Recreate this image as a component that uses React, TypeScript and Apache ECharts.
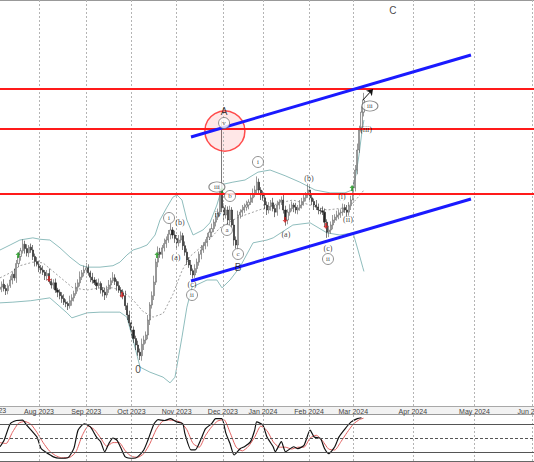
import React, { useEffect, useRef } from "react";
import * as echarts from "echarts";

// ---------- data (bar index = weekday since 5 Jul 2023) ----------
const firstOpen = 1909;
const closes = [
  1912, 1916, 1910, 1907, 1914, 1922, 1930, 1925, 1945, 1955,
  1963, 1972, 1966, 1960, 1968, 1964, 1955, 1948, 1944, 1939,
  1936, 1933, 1928, 1931, 1920, 1915, 1918, 1908, 1905, 1900,
  1896, 1891, 1889, 1886, 1893, 1897, 1903, 1912, 1918, 1926,
  1932, 1936, 1939, 1932, 1926, 1922, 1918, 1914, 1917, 1908,
  1905, 1901, 1909, 1915, 1921, 1925, 1920, 1914, 1908, 1904,
  1900, 1886, 1873, 1862, 1852, 1840, 1831, 1821, 1816, 1832,
  1838, 1845, 1866, 1887, 1900, 1919, 1947, 1961, 1958, 1967,
  1973, 1978, 1986, 1992, 1985, 1980, 1974, 1978, 1984, 1970,
  1961, 1950, 1943, 1935, 1929, 1938, 1947, 1958, 1964, 1970,
  1975, 1982, 1989, 1994, 2003, 2010, 2017, 2048, 2023, 2013,
  2020, 2006, 2020, 1999, 1978, 1971, 2013, 2017, 2020, 2024,
  2027, 2031, 2037, 2043, 2048, 2059, 2048, 2041, 2037, 2027,
  2020, 2025, 2030, 2022, 2017, 2027, 2031, 2034, 2020, 2006,
  2017, 2022, 2027, 2024, 2020, 2023, 2027, 2032, 2037, 2041,
  2048, 2037, 2032, 2027, 2024, 2020, 2019, 2017, 2003, 1989,
  1992, 1999, 2006, 2010, 2013, 2016, 2017, 2023, 2020, 2017,
  2026, 2034, 2051, 2076, 2104, 2132, 2157, 2174,
];
const wickUp = [
  6, 4, 7, 5, 3, 6, 4, 8, 5, 6, 4, 7, 5, 6, 3, 5, 7, 4, 6, 5,
  4, 6, 3, 5, 7, 4, 5, 6, 3, 4, 5, 6, 4, 3, 7, 5, 4, 6, 5, 8,
  4, 6, 7, 5, 3, 6, 4, 5, 7, 3, 4, 6, 5, 7, 4, 8, 5, 3, 6, 4,
  5, 7, 4, 6, 3, 5, 4, 6, 5, 8, 6, 5, 7, 4, 6, 9, 5, 8, 6, 4,
  7, 5, 6, 9, 4, 6, 5, 7, 6, 4, 6, 5, 4, 7, 3, 6, 5, 4, 7, 5,
  4, 6, 5, 7, 4, 6, 5, 8, 97, 6, 7, 5, 6, 4, 8, 5, 6, 4, 7, 5,
  6, 4, 5, 7, 6, 8, 5, 4, 6, 7, 5, 6, 4, 7, 5, 6, 4, 5, 7, 6,
  4, 6, 5, 3, 6, 4, 7, 5, 6, 4, 9, 5, 6, 4, 7, 5, 3, 6, 5, 4,
  6, 5, 7, 4, 6, 5, 4, 6, 5, 7, 5, 6, 8, 7, 9, 6, 8, 10,
];
const wickDn = [
  5, 7, 4, 6, 5, 3, 6, 4, 7, 5, 6, 4, 7, 5, 6, 4, 5, 7, 3, 6,
  5, 4, 6, 7, 3, 5, 6, 4, 7, 5, 6, 4, 5, 6, 4, 7, 5, 3, 6, 5,
  4, 5, 6, 4, 7, 5, 3, 6, 4, 5, 6, 7, 4, 5, 6, 3, 5, 7, 4, 6,
  5, 6, 7, 5, 8, 6, 7, 5, 6, 7, 8, 5, 6, 7, 5, 6, 4, 7, 5, 6,
  5, 6, 4, 7, 5, 6, 8, 5, 4, 6, 5, 7, 4, 6, 5, 4, 6, 5, 7, 4,
  5, 6, 4, 7, 5, 6, 4, 5, 6, 7, 5, 6, 7, 4, 8, 5, 7, 5, 6, 4,
  5, 6, 4, 7, 5, 6, 5, 7, 4, 6, 7, 5, 6, 4, 7, 5, 6, 4, 5, 8,
  6, 5, 4, 7, 5, 6, 4, 5, 6, 5, 4, 6, 5, 7, 4, 6, 5, 4, 7, 8,
  7, 5, 6, 4, 5, 6, 7, 5, 4, 6, 5, 6, 4, 5, 6, 4, 5, 6,
];

// Bollinger bands: [bar index, price]
const bbUpper = [
  [0, 1964], [4.9, 1971], [9.7, 1978], [16, 1981], [19.5, 1979], [24.3, 1978],
  [29.2, 1967], [34.1, 1954], [39, 1943], [42.4, 1940], [48.7, 1940], [55, 1942],
  [58.4, 1947], [61.8, 1957], [64.8, 1964], [68.2, 1967], [71.6, 1971], [75.5, 1985],
  [77.9, 2006], [81.3, 2024], [84.2, 2038], [86.2, 2041], [88.6, 2034], [91, 2006],
  [94, 1985], [98.8, 1992], [102.2, 2002], [105.6, 2027], [108.6, 2056], [113.4, 2059],
  [119.3, 2062], [125.6, 2073], [131.5, 2076], [138.8, 2068], [146, 2059], [153.4, 2048],
  [160.7, 2044], [168, 2044], [171.4, 2048], [173.3, 2069], [174.8, 2097], [176.2, 2129],
  [177.2, 2146],
];
const bbMid = [
  [0, 1925], [4.9, 1932], [9.7, 1942], [16, 1947], [20.9, 1946], [29.2, 1926],
  [35.5, 1911], [42.4, 1908], [48.7, 1911], [55, 1911], [59.9, 1906], [64.8, 1894],
  [69.6, 1878], [74.5, 1870], [79.4, 1875], [84.2, 1902], [88.6, 1935], [92.5, 1955],
  [100.8, 1975], [107.1, 1995], [115.4, 2009], [123.2, 2017], [130, 2024], [136.3, 2030],
  [142.6, 2034], [151, 2027], [159.2, 2020], [168, 2023], [171.9, 2030], [175.3, 2041],
  [177.2, 2048],
];
const bbLower = [
  [0, 1890], [6.3, 1891], [15, 1893], [24.3, 1897], [32.6, 1876], [35, 1869],
  [42.4, 1876], [48.7, 1877], [58.4, 1877], [61.8, 1870], [64.8, 1838], [68.2, 1800],
  [73, 1793], [79.4, 1786], [82.8, 1778], [85.2, 1786], [88.6, 1842], [91, 1884],
  [93.5, 1912], [100.8, 1922], [105.6, 1922], [108.1, 1911], [112, 1922], [116.8, 1940],
  [123.2, 1974], [130, 1978], [133, 1981], [142.6, 1999], [151, 2002], [159.2, 1988],
  [165.5, 1985], [171.9, 1988], [174.3, 1964], [176.7, 1939], [177.2, 1934],
];

// Stochastic oscillator: [bar index, value]
const stochK = [
  [0, 31], [2, 45], [5, 81], [8, 88], [11, 89], [13, 78], [16, 63], [18, 52], [20, 27],
  [22, 20], [26, 9], [29, 6], [33, 7], [36, 28], [38, 67], [41, 81], [44, 74], [47, 52],
  [49, 42], [51, 20], [53, 38], [55, 50], [57, 45], [59, 27], [61, 9], [65, 6], [67, 9],
  [70, 24], [72, 45], [75, 81], [77, 90], [80, 88], [83, 92], [86, 85], [89, 81], [90, 60],
  [93, 24], [95, 24], [98, 49], [100, 70], [103, 81], [105, 92], [108, 92], [110, 60],
  [112, 38], [114, 13], [117, 27], [119, 31], [122, 42], [124, 67], [125, 85], [128, 78],
  [130, 52], [133, 31], [134, 20], [137, 42], [139, 20], [143, 31], [145, 27], [148, 34],
  [151, 67], [153, 52], [156, 49], [158, 27], [160, 16], [163, 31], [165, 52], [168, 70],
  [171, 85], [174, 92], [176, 94],
];
const stochD = [
  [0, 40], [3, 38], [6, 62], [9, 82], [12, 86], [15, 80], [18, 62], [21, 40], [24, 22],
  [27, 12], [30, 7], [34, 8], [37, 20], [40, 55], [43, 76], [46, 68], [49, 50], [52, 32],
  [55, 40], [58, 40], [61, 22], [64, 10], [67, 8], [70, 16], [73, 38], [76, 68], [79, 86],
  [82, 89], [85, 88], [88, 84], [91, 68], [94, 38], [97, 30], [100, 55], [103, 74],
  [106, 87], [109, 90], [112, 62], [115, 30], [118, 22], [121, 32], [124, 52], [127, 76],
  [130, 66], [133, 42], [136, 30], [139, 30], [142, 26], [145, 30], [148, 30], [151, 50],
  [154, 56], [157, 44], [160, 26], [163, 24], [166, 42], [169, 62], [172, 80], [175, 90],
  [177, 93],
];
const stochLevels = [80, 50, 20];

// time axis
const monthPos = [19, 42, 64, 86, 108.5, 128, 150.5, 172, 201, 231, 259];
const monthNames = [
  "Aug 2023", "Sep 2023", "Oct 2023", "Nov 2023", "Dec 2023", "Jan 2024",
  "Feb 2024", "Mar 2024", "Apr 2024", "May 2024", "Jun 2024",
];
const prevMonth = { name: "Jul 2023", pos: -3.4 };

// annotations
const levels = [2189.4, 2133.4, 2043];
const trendLines = [
  [[93, 2122.2], [229.3, 2237]],
  [[93, 1920.6], [229.3, 2035.4]],
];
const arrowLine = [[176.7, 2174], [181.6, 2189.4]];
const focusCircle = [109.5, 2130.6];
const bigLetters = [
  ["C", 191.3, 2300],
  ["A", 109.1, 2158.6],
  ["B", 115.9, 1940.2],
  ["0", 67.2, 1797.4],
];
const parenLabels = [
  ["(a)", 85.7, 1953],
  ["(b)", 87.6, 2003],
  ["(c)", 93.5, 1916.4],
  ["iv", 106.1, 2014.4],
  ["(a)", 139.2, 1986.4],
  ["(b)", 150.4, 2064.8],
  ["(c)", 159.7, 1966.8],
  ["(i)", 166.5, 2039.6],
  ["(ii)", 169.4, 2007.4],
  ["(iii)", 178.2, 2133.4],
];
const circledLabels = [
  ["v", 109.1, 2141.8],
  ["i", 82.3, 2008.8],
  ["ii", 93.5, 1901],
  ["iii", 105.6, 2052.2],
  ["a", 110.5, 1992],
  ["b", 112, 2039.6],
  ["c", 115.9, 1958.4],
  ["i", 125.6, 2087.2],
  ["ii", 159.7, 1951.4],
  ["iii", 180.1, 2165.6],
];
const upMarks = [[8.8, 1957], [76.4, 1957], [108.1, 2048], [171.4, 2050.8]];
const downMarks = [[23.9, 1923.4], [59.4, 1901], [138.8, 2006], [158.7, 1997.6]];

// ---------- axis settings ----------
const X_MAX = 260;
const Y_MIN = 1745.6;
const Y_MAX = 2314;

export default function App() {
  const ref = useRef<HTMLDivElement>(null);

  useEffect(() => {
    document.body.style.margin = "0";
    if (!ref.current) return;
    const chart = echarts.init(ref.current, undefined, { renderer: "svg" });

    const candleData = closes.map((c, i) => {
      const o = i === 0 ? firstOpen : closes[i - 1];
      return [i, o, c, Math.min(o, c) - wickDn[i], Math.max(o, c) + wickUp[i]];
    });

    const font = "Liberation Sans";
    const serif = "Liberation Serif";

    const vgrid = (xi: number, yMin: number) => ({
      type: "scatter",
      xAxisIndex: xi,
      yAxisIndex: xi,
      data: monthPos.map((p) => [p, yMin]),
      symbolSize: 0,
      silent: true,
      z: 1,
      markLine: {
        silent: true,
        symbol: "none",
        label: { show: false },
        lineStyle: { color: "#b4b4b4", type: [2, 2], width: 1 },
        data: monthPos.map((p) => ({ xAxis: p })),
      },
    });

    const option: any = {
      animation: false,
      textStyle: { fontFamily: font },
      grid: [
        { left: 0, right: 0, top: 0, height: 406, containLabel: false, outerBoundsMode: "none" },
        { left: 0, right: 0, top: 415, height: 46, containLabel: false, outerBoundsMode: "none" },
      ],
      xAxis: [
        {
          type: "value",
          gridIndex: 0,
          min: 0,
          max: X_MAX,
          splitLine: { show: false },
          axisTick: { show: false },
          axisLine: { show: true, lineStyle: { color: "#a8a8a8" } },
          axisLabel: {
            show: true,
            customValues: monthPos,
            fontSize: 7,
            color: "#444",
            margin: 2,
            fontFamily: font,
            formatter: (v: number) => {
              const k = monthPos.indexOf(v);
              return k >= 0 ? monthNames[k] : "";
            },
          },
        },
        {
          type: "value",
          gridIndex: 1,
          min: 0,
          max: X_MAX,
          show: true,
          splitLine: { show: false },
          axisTick: { show: false },
          axisLabel: { show: false },
          axisLine: { show: true, lineStyle: { color: "#666" } },
        },
      ],
      yAxis: [
        { type: "value", gridIndex: 0, min: Y_MIN, max: Y_MAX, show: false, splitLine: { show: false } },
        { type: "value", gridIndex: 1, min: 0, max: 100, show: false, splitLine: { show: false } },
      ],
      graphic: [
        { type: "rect", z: -10, shape: { x: 0, y: 406, width: 534, height: 8 }, style: { fill: "#f2f2f2" } },
        { type: "line", shape: { x1: 0, y1: 0.5, x2: 534, y2: 0.5 }, style: { stroke: "#999", lineWidth: 1 } },
        { type: "line", shape: { x1: 0, y1: 414.5, x2: 534, y2: 414.5 }, style: { stroke: "#999", lineWidth: 1 } },
      ],
      series: [
        vgrid(0, Y_MIN),
        {
          type: "line",
          data: bbUpper,
          symbol: "none",
          lineStyle: { color: "#8fbdbd", width: 1 },
          silent: true,
          z: 2,
        },
        {
          type: "line",
          data: bbLower,
          symbol: "none",
          lineStyle: { color: "#8fbdbd", width: 1 },
          silent: true,
          z: 2,
        },
        {
          type: "line",
          data: bbMid,
          symbol: "none",
          lineStyle: { color: "#888", width: 0.8, type: [2, 2] },
          silent: true,
          z: 2,
        },
        {
          type: "candlestick",
          data: candleData,
          encode: { x: 0, y: [1, 2, 3, 4] },
          barWidth: 1.6,
          itemStyle: {
            color: "#f4f4f4",
            color0: "#222222",
            borderColor: "#555555",
            borderColor0: "#222222",
            borderWidth: 0.6,
          },
          silent: true,
          z: 3,
        },
        {
          type: "scatter",
          data: [focusCircle],
          symbol: "circle",
          symbolSize: 40,
          itemStyle: { color: "rgba(255,0,0,0.12)", borderColor: "#ff2020", borderWidth: 1.5 },
          silent: true,
          z: 4,
        },
        {
          type: "scatter",
          data: upMarks,
          symbol: "path://M4,0 L8,5 L5.5,5 L5.5,10 L2.5,10 L2.5,5 L0,5 Z",
          symbolSize: [5, 6],
          itemStyle: { color: "#1f9a1f" },
          silent: true,
          z: 5,
        },
        {
          type: "scatter",
          data: downMarks,
          symbol: "path://M4,10 L8,5 L5.5,5 L5.5,0 L2.5,0 L2.5,5 L0,5 Z",
          symbolSize: [5, 6],
          itemStyle: { color: "#d42020" },
          silent: true,
          z: 5,
        },
        {
          type: "scatter",
          data: [],
          symbolSize: 0,
          silent: true,
          z: 6,
          markLine: {
            silent: true,
            symbol: "none",
            label: { show: false },
            data: [
              ...levels.map((v) => ({ yAxis: v, lineStyle: { color: "#ff1a1a", width: 2, type: "solid" } })),
              ...trendLines.map((t) => [
                { coord: t[0], lineStyle: { color: "#1a1aff", width: 3, type: "solid" } },
                { coord: t[1] },
              ]),
              [
                { coord: arrowLine[0], symbol: "none", lineStyle: { color: "#111", width: 1, type: "solid" } },
                { coord: arrowLine[1], symbol: "arrow", symbolSize: 6 },
              ],
            ],
          },
        },
        {
          type: "scatter",
          data: circledLabels.map((d) => ({ name: d[0], value: [d[1], d[2]] })),
          symbol: "circle",
          symbolSize: (_v: any, p: any) => {
            const n = String(p.name).length;
            return n >= 3 ? [16, 10] : [11, 11];
          },
          itemStyle: { color: "#ffffff", borderColor: "#666", borderWidth: 0.9 },
          label: {
            show: true,
            position: "inside",
            formatter: "{b}",
            fontSize: 7,
            color: "#111",
            fontFamily: serif,
          },
          silent: true,
          z: 7,
        },
        {
          type: "scatter",
          data: parenLabels.map((d) => ({ name: d[0], value: [d[1], d[2]] })),
          symbolSize: 1,
          itemStyle: { color: "rgba(0,0,0,0)" },
          label: {
            show: true,
            position: "inside",
            formatter: "{b}",
            fontSize: 8,
            color: "#111",
            fontFamily: serif,
          },
          silent: true,
          z: 7,
        },
        {
          type: "scatter",
          data: bigLetters.map((d) => ({ name: d[0], value: [d[1], d[2]] })),
          symbolSize: 1,
          itemStyle: { color: "rgba(0,0,0,0)" },
          label: {
            show: true,
            position: "inside",
            formatter: "{b}",
            fontSize: 10,
            color: "#111",
            fontFamily: font,
          },
          silent: true,
          z: 7,
        },
        // stochastic panel
        vgrid(1, 0),
        {
          type: "line",
          xAxisIndex: 1,
          yAxisIndex: 1,
          data: stochD,
          symbol: "none",
          smooth: 0.2,
          lineStyle: { color: "#e06060", width: 1 },
          silent: true,
          z: 3,
        },
        {
          type: "line",
          xAxisIndex: 1,
          yAxisIndex: 1,
          data: stochK,
          symbol: "none",
          smooth: 0.2,
          lineStyle: { color: "#111", width: 1.2 },
          silent: true,
          z: 4,
          markLine: {
            silent: true,
            symbol: "none",
            label: { show: false },
            data: stochLevels.map((v) => ({
              yAxis: v,
              lineStyle: { color: "#555", width: 1, type: v === 50 ? [3, 2] : "solid" },
            })),
          },
        },
      ],
    };

    chart.setOption(option);

    const px = chart.convertToPixel({ xAxisIndex: 0 }, prevMonth.pos) as number;
    chart.setOption({
      graphic: [
        ...option.graphic,
        {
          type: "text",
          style: {
            text: prevMonth.name,
            x: px,
            y: 410,
            align: "center",
            verticalAlign: "middle",
            fontSize: 7,
            fill: "#444",
            fontFamily: font,
          },
        },
      ],
    });

    return () => chart.dispose();
  }, []);

  return <div ref={ref} style={{ width: 534, height: 462 }} />;
}
